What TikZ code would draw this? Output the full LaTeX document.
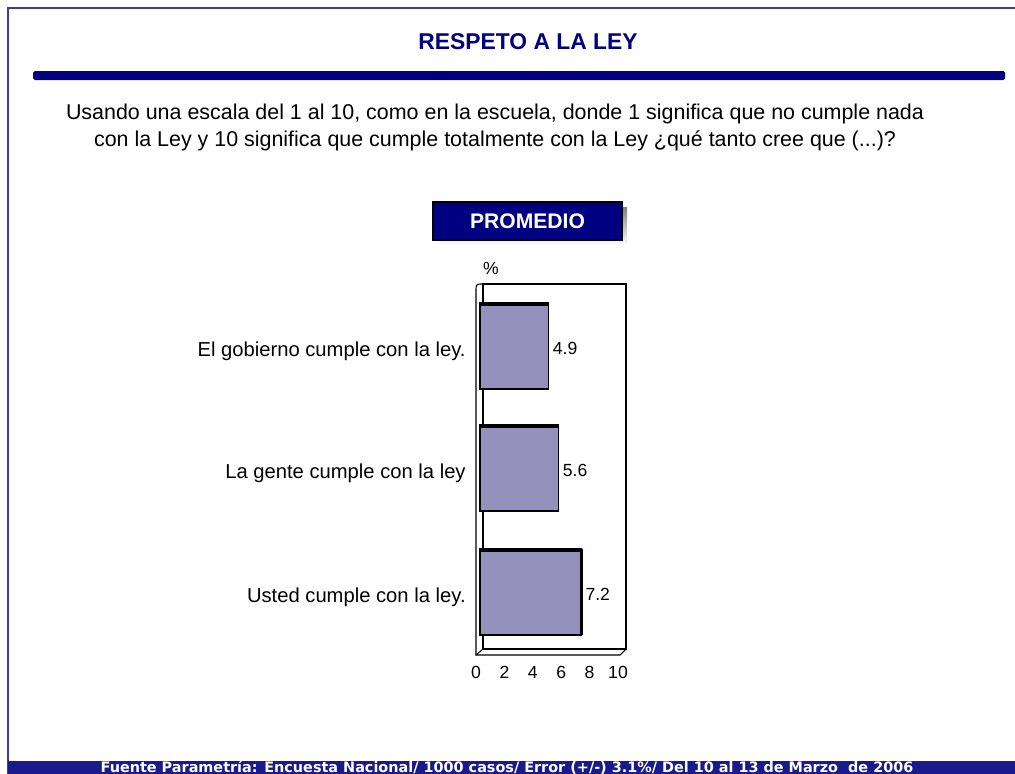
\documentclass[tikz,border=0pt]{standalone}
\usepackage{fontspec}
\setmainfont{Liberation Sans}
\newfontfamily\footfont{DejaVu Sans}
\usepackage{xcolor}
\usepackage{tikz}
\usetikzlibrary{positioning,calc}
\definecolor{navy}{RGB}{0,0,128}
\definecolor{footblue}{RGB}{26,26,140}
\definecolor{edgeblue}{RGB}{60,60,160}
\definecolor{barfill}{RGB}{150,145,188}
\definecolor{shade}{RGB}{210,210,210}
\tikzset{
	lbl/.style={anchor=east, inner sep=0, font=\fontsize{11.5}{13}\selectfont},
	val/.style={anchor=west, inner sep=0, font=\fontsize{10}{12}\selectfont},
	tck/.style={inner sep=0, font=\fontsize{10}{12}\selectfont},
	barbox/.style={draw=black, fill=barfill, line width=0.6pt},
}
\begin{document}
\begin{tikzpicture}[x=0.02cm, y=-0.02cm]
	\useasboundingbox (0,0) rectangle (1015,774);
	\fill[white] (0,0) rectangle (1015,774);
	% marco de la pagina
	\draw[edgeblue, line width=1.1pt] (8,774) -- (8,8) -- (1015,8);
	\node[inner sep=0, text=navy, font=\bfseries\fontsize{13}{15}\selectfont] (title) at (528,42) {RESPETO A LA LEY};
	\fill[navy, rounded corners=1pt] (33,71) rectangle (1005,80);
	\node[align=center, inner sep=0, font=\fontsize{12.2}{15.4}\selectfont] (quest) at (495,127) {Usando una escala del 1 al 10, como en la escuela, donde 1 significa que no cumple nada\\ con la Ley y 10 significa que cumple totalmente con la Ley ¿qué tanto cree que (...)?};
	% recuadro promedio
	\fill[shade] (438,207) rectangle (627,245);
	\node[draw=black, line width=1pt, fill=navy, text=white, inner sep=0, minimum width=3.78cm, minimum height=0.76cm, font=\bfseries\fontsize{12}{14}\selectfont] (prom) at (527.5,221) {PROMEDIO};
	\node[tck] (pct) at (491,268) {\%};
	% caja 3d
	\draw[line width=0.6pt] (483,284) rectangle (626,649);
	\draw[line width=0.6pt] (483,284) .. controls (476,284) .. (476,291) -- (476,655) -- (620,655) -- (626,649);
	\draw[line width=0.6pt] (476,655) -- (483,649);
	\foreach \v/\yc/\t/\n in {4.9/346/{El gobierno cumple con la ley.}/gob, 5.6/468/{La gente cumple con la ley}/gen, 7.2/592/{Usted cumple con la ley.}/ust}{
		\draw[barbox] (480,\yc-43) rectangle ({479+14.2*\v},\yc+43);
		\draw[line width=1.9pt] (480,\yc-41.5) -- ({479+14.2*\v},\yc-41.5);
		\node[val] (v-\n) at ({479+14.2*\v+4},\yc+2) {\v};
		\node[lbl] (l-\n) at (466,\yc+5) {\t};
	}
	\draw[line width=1.9pt] (581.6,549) -- (581.6,635);
	\foreach \k in {0,2,...,10}
		\node[tck] (t\k) at (476+14.2*\k,672) {\k};
	% pie
	\fill[footblue] (8,761) rectangle (1015,774);
	\node[inner sep=0, text=white, font=\footfont\bfseries\fontsize{8.2}{9}\selectfont] (foot) at (507,768) {Fuente Parametría: Encuesta Nacional/ 1000 casos/ Error (+/-) 3.1\%/ Del 10 al 13 de Marzo\ \ de 2006};
\end{tikzpicture}
\end{document}
